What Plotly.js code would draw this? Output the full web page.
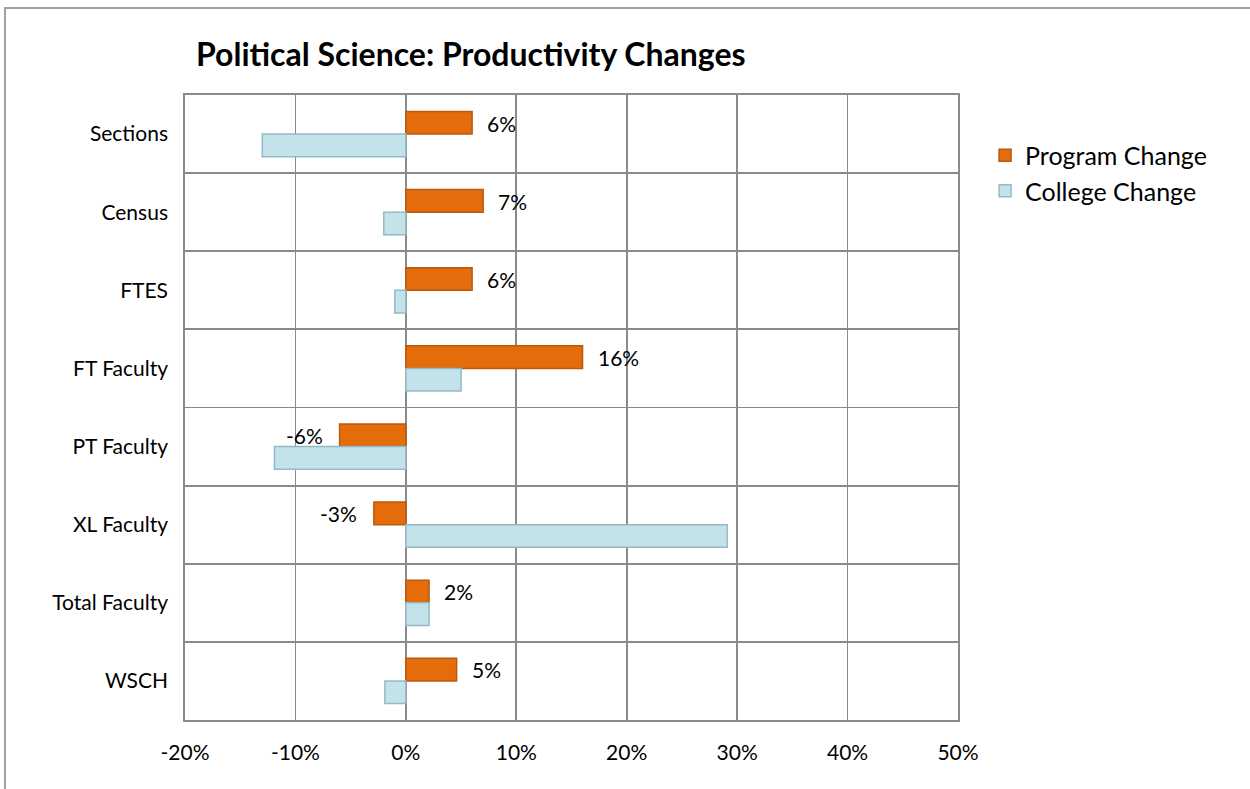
<!DOCTYPE html>
<html>
<head>
<meta charset="utf-8">
<script src="https://cdn.plot.ly/plotly-3.0.1.min.js"></script>
<style>
html,body{margin:0;padding:0;background:#fff;}
#frame{position:absolute;left:4px;top:7px;width:1246px;height:782px;border-left:2px solid #a0a0a0;border-top:2px solid #a0a0a0;box-sizing:border-box;}
#chart{position:absolute;left:0;top:0;width:1250px;height:789px;}
</style>
</head>
<body>
<div id="frame"></div>
<div id="chart"></div>
<script>
const categories = ["Sections","Census","FTES","FT Faculty","PT Faculty","XL Faculty","Total Faculty","WSCH"];
const programChange = [0.060, 0.070, 0.060, 0.160, -0.060, -0.029, 0.021, 0.046];
const collegeChange = [-0.130, -0.020, -0.010, 0.050, -0.119, 0.291, 0.021, -0.019];
const xTickVals = [-0.2,-0.1,0,0.1,0.2,0.3,0.4,0.5];
const xTickText = ["-20%","-10%","0%","10%","20%","30%","40%","50%"];

const font = "Lato, 'Open Sans', sans-serif";

const traces = [
  {type:'bar', orientation:'h', name:'Program Change', y:categories, x:programChange,
   marker:{color:'#E46C0A', line:{color:'#B85A10', width:1.5}}, hoverinfo:'x+y'},
  {type:'bar', orientation:'h', name:'College Change', y:categories, x:collegeChange,
   marker:{color:'#C3E2EA', line:{color:'#94BAC6', width:1.5}}, hoverinfo:'x+y'}
];

const annotations = categories.map((c,i)=>{
  const v = programChange[i];
  return {x:v, y:c, xref:'x', yref:'y', text:Math.round(v*100)+'%',
    showarrow:false, xanchor: v>=0 ? 'left':'right', xshift: v>=0 ? 13 : -15,
    yshift: 11, font:{family:font, size:21, color:'#000'}};
});

const layout = {
  width:1250, height:789,
  margin:{l:185, r:292, t:95, b:69, pad:0},
  paper_bgcolor:'rgba(0,0,0,0)', plot_bgcolor:'#fff',
  title:{text:'<b>Political Science: Productivity Changes</b>', x:196/1250, xref:'container', xanchor:'left',
    y:1-55/789, yref:'container', yanchor:'middle', font:{family:font, size:32, color:'#000'}},
  barmode:'group', bargap:0.42, bargroupgap:0,
  xaxis:{range:[-0.2,0.5], tickvals:xTickVals, ticktext:xTickText, showgrid:true,
    gridcolor:'#8a8a8a', gridwidth:1.8, zeroline:false, showline:true, linecolor:'#8a8a8a', linewidth:1.8,
    mirror:true, ticks:'', tickfont:{family:font, size:21, color:'#000'}, ticklabelstandoff:13, fixedrange:true},
  yaxis:{type:'category', categoryorder:'array', categoryarray:categories, autorange:'reversed',
    tickson:'boundaries', showgrid:true, gridcolor:'#8a8a8a', gridwidth:1.8, showline:true,
    linecolor:'#8a8a8a', linewidth:1.8, mirror:true, ticks:'', ticklen:0,
    tickfont:{family:font, size:21, color:'#000'}, ticklabelstandoff:11, fixedrange:true},
  legend:{x:1.035, xanchor:'left', y:0.94, yanchor:'top', font:{family:font, size:25, color:'#000'},
    traceorder:'normal', itemwidth:30, tracegroupgap:0, bgcolor:'rgba(0,0,0,0)'},
  annotations: annotations,
  showlegend:true
};

Plotly.newPlot('chart', traces, layout, {displayModeBar:false, staticPlot:true});
</script>
</body>
</html>
